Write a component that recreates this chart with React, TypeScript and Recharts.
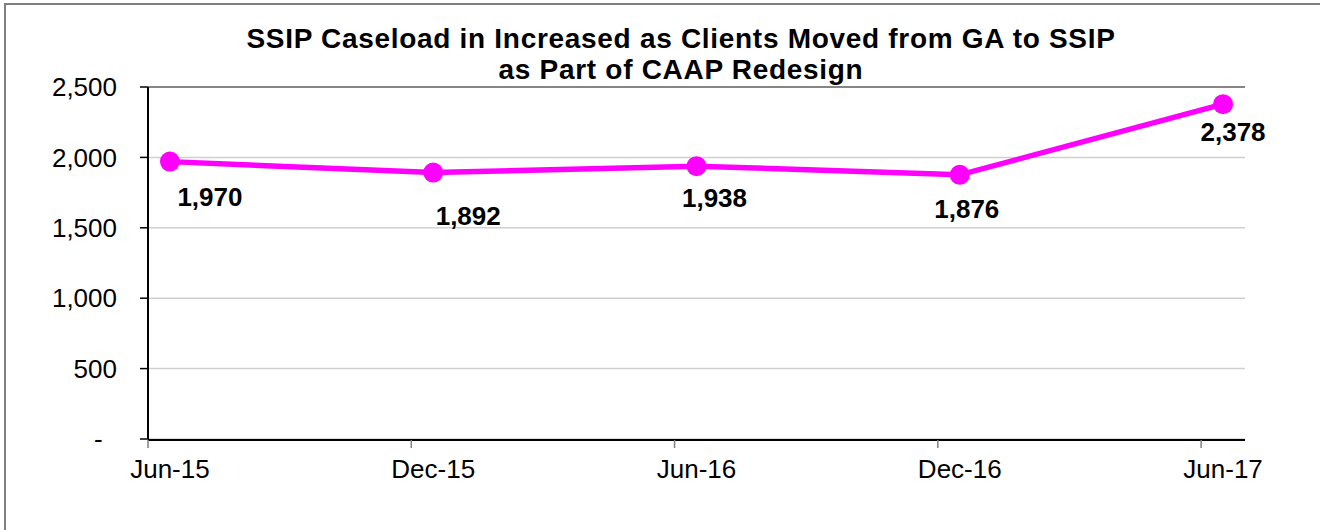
import { CartesianGrid, LabelList, Line, LineChart, ReferenceLine, XAxis, YAxis } from 'recharts';

// Excel date axis: points sit in the middle of each month slot (month index + 0.5)
const periods = ['Jun-15', 'Dec-15', 'Jun-16', 'Dec-16', 'Jun-17'];
const monthIndex = [0, 6, 12, 18, 24];
const caseload = [1970, 1892, 1938, 1876, 2378];
const yTicks = [0, 500, 1000, 1500, 2000, 2500];

// hand-placed data label nudges (dx to text centre, dy to baseline)
const labelNudge: [number, number][] = [
  [40, 44],
  [35, 52],
  [18, 41],
  [7, 43],
  [10, 37],
];

const FONT = '"Liberation Sans", Arial, sans-serif';
const MAGENTA = '#ff00ff';

const rows = periods.map((p, i) => ({ period: p, x: monthIndex[i] + 0.5, value: caseload[i] }));
const labelTicks = monthIndex.map((m) => m + 0.5);
const tickMarks = monthIndex;

const fmt = (v: number) => (v === 0 ? '-\u00a0\u00a0' : v.toLocaleString('en-US'));

function DataLabel(props: any) {
  const { x, y, value, index } = props;
  const [dx, dy] = labelNudge[index] ?? [0, 40];
  return (
    <text x={x + dx} y={y + dy} textAnchor="middle" fontFamily={FONT} fontSize={26} fontWeight="bold" fill="#000">
      {Number(value).toLocaleString('en-US')}
    </text>
  );
}

export default function App() {
  return (
    <div style={{ position: 'fixed', left: 0, top: 0, width: 1320, height: 530, overflow: 'hidden', background: '#fff' }}>
      <div
        style={{
          position: 'absolute',
          left: 4,
          top: 3,
          width: 1400,
          height: 600,
          border: '2px solid #7f7f7f',
        }}
      />
      <div
        style={{
          position: 'absolute',
          left: 181,
          top: 23,
          width: 1000,
          textAlign: 'center',
          fontFamily: FONT,
          fontWeight: 'bold',
          fontSize: 28,
          letterSpacing: '0.7px',
          lineHeight: '31px',
          color: '#000',
        }}
      >
        SSIP Caseload in Increased as Clients Moved from GA to SSIP
        <br />
        as Part of CAAP Redesign
      </div>
      <div style={{ position: 'absolute', left: 0, top: 0 }}>
        <LineChart width={1320} height={530} data={rows} margin={{ top: 87, right: 75, bottom: 89, left: 0 }}>
          <CartesianGrid horizontal vertical={false} stroke="#d0d0d0" strokeWidth={1.5} />
          <ReferenceLine y={2500} stroke="#868686" strokeWidth={2} />
          <ReferenceLine x={25} stroke="#868686" strokeWidth={2} />
          <XAxis
            xAxisId="marks"
            type="number"
            dataKey="x"
            domain={[0, 25]}
            ticks={tickMarks}
            height={1}
            interval={0}
            tickFormatter={() => ''}
            tickSize={8}
            axisLine={{ stroke: '#000', strokeWidth: 2 }}
            tickLine={{ stroke: '#808080', strokeWidth: 1.5 }}
          />
          <XAxis
            xAxisId="labels"
            type="number"
            dataKey="x"
            domain={[0, 25]}
            ticks={labelTicks}
            height={1}
            axisLine={false}
            tickLine={false}
            tickSize={0}
            tickMargin={21}
            interval={0}
            tickFormatter={(v: number) => periods[labelTicks.indexOf(v)] ?? ''}
            tick={{ fill: '#000', fontFamily: FONT, fontSize: 26 }}
          />
          <YAxis
            domain={[0, 2500]}
            ticks={yTicks}
            width={148}
            tickSize={8}
            tickMargin={23}
            interval={0}
            tickFormatter={fmt}
            axisLine={{ stroke: '#000', strokeWidth: 2 }}
            tickLine={{ stroke: '#000', strokeWidth: 1.5 }}
            tick={{ fill: '#000', fontFamily: FONT, fontSize: 26 }}
          />
          <Line
            xAxisId="labels"
            type="linear"
            dataKey="value"
            stroke={MAGENTA}
            strokeWidth={5.5}
            dot={{ r: 10, fill: MAGENTA, stroke: 'none' }}
            activeDot={false}
            isAnimationActive={false}
          >
            <LabelList dataKey="value" content={DataLabel} />
          </Line>
        </LineChart>
      </div>
    </div>
  );
}
